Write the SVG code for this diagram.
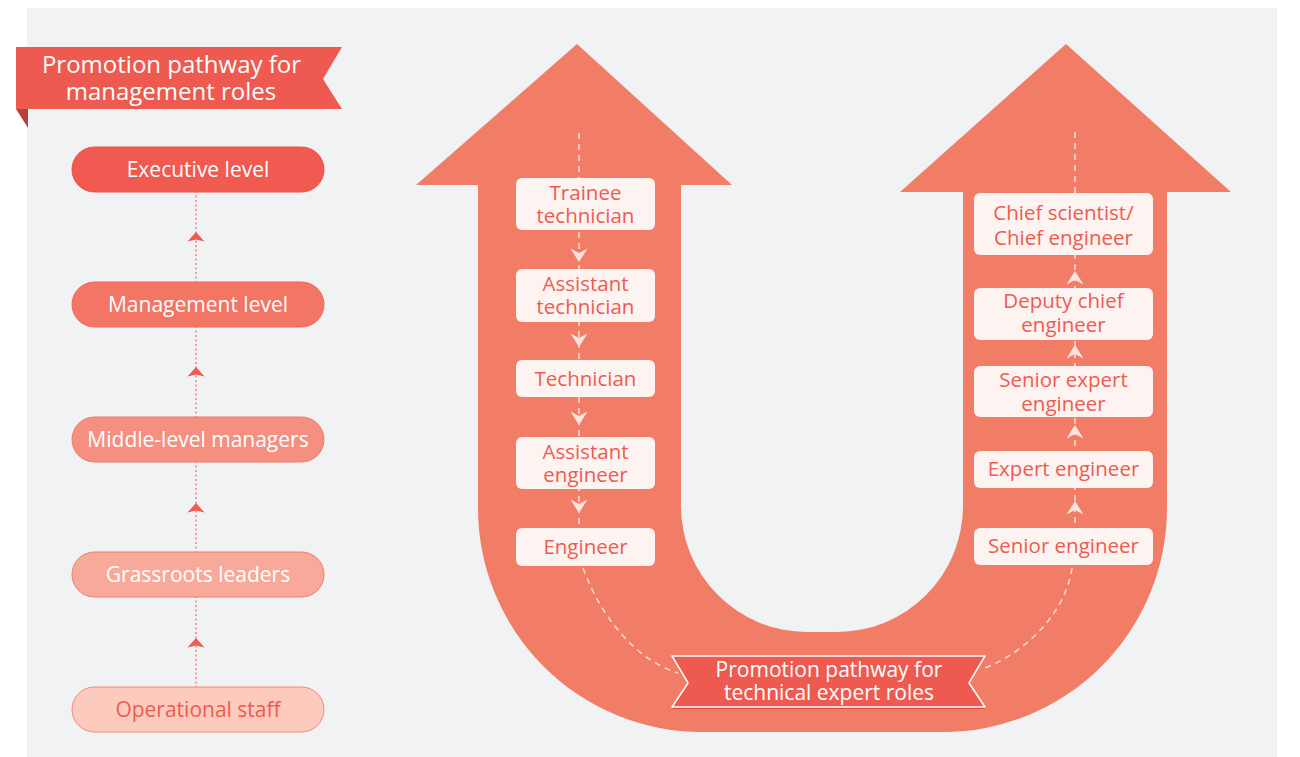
<svg xmlns="http://www.w3.org/2000/svg" width="1300" height="757" viewBox="0 0 1300 757">
<defs>
<style>
.t{font-family:"Open Sans","Noto Sans","DejaVu Sans",sans-serif;text-anchor:middle}
.wt{fill:#ffffff}
.rt{fill:#ef5b50}
.box{fill:#fdf3f1}
.dot{stroke:#f08276;stroke-width:1.5;stroke-dasharray:2 2.5;fill:none}
.dash{stroke:#ffffff;stroke-opacity:0.75;stroke-width:1.5;stroke-dasharray:6 5;fill:none}
</style>
<path id="chev" d="M-8.5,-6.5 L0,-2 L8.5,-6.5 L0,7 Z" fill="#fde3dd"/>
<path id="tri" d="M0,0 L8.5,9.5 L0,7.5 L-8.5,9.5 Z" fill="#f05a50"/>
</defs>
<rect x="0" y="0" width="1300" height="757" fill="#ffffff"/>
<rect x="27" y="8" width="1250" height="749" fill="#f1f2f4"/>

<g id="u-arrow">
<path d="M577,44 L732,185 L681,185 L681,506 A126,126 0 0 0 807,632 L837,632 A126,126 0 0 0 963,506 L963,192 L900,192 L1066,44 L1231,192 L1167,192 L1167,508 A224,224 0 0 1 943,732 L702,732 A224,224 0 0 1 478,508 L478,185 L416,185 Z" fill="#f27d67"/>
</g>

<g id="connectors">
<line class="dot" x1="196" y1="191" x2="196" y2="687"/>
<use href="#tri" x="196" y="232"/>
<use href="#tri" x="196" y="367"/>
<use href="#tri" x="196" y="503"/>
<use href="#tri" x="196" y="638"/>
<line class="dash" x1="579" y1="133" x2="579" y2="528"/>
<path class="dash" d="M583,568 C600,615 635,660 678,673"/>
<line class="dash" x1="1075" y1="132" x2="1075" y2="528"/>
<path class="dash" d="M1072,568 C1066,610 1030,650 985,668"/>
<use href="#chev" x="579" y="255"/>
<use href="#chev" x="579" y="340"/>
<use href="#chev" x="579" y="418"/>
<use href="#chev" x="579" y="506"/>
<use href="#chev" transform="translate(1075,278) rotate(180)"/>
<use href="#chev" transform="translate(1075,352) rotate(180)"/>
<use href="#chev" transform="translate(1075,432) rotate(180)"/>
<use href="#chev" transform="translate(1075,508) rotate(180)"/>
</g>

<g id="title-management">
<path d="M16,109 L28,109 L28,128 Z" fill="#b8423a"/>
<path d="M16,47 L342,47 L323,79 L342,109 L16,109 Z" fill="#ef5a50"/>
<text class="t wt" font-size="24"><tspan x="171.5" y="73">Promotion pathway for</tspan><tspan x="171" y="100">management roles</tspan></text>
</g>

<g id="executive-level">
<rect x="72" y="147" width="252" height="45" rx="22.5" fill="#f05a50" stroke="#ec5248"/>
<text class="t wt" x="198" y="177" font-size="21">Executive level</text>
</g>
<g id="management-level">
<rect x="72" y="282" width="252" height="45" rx="22.5" fill="#f37563" stroke="#ef6a5a"/>
<text class="t wt" x="198" y="312" font-size="21">Management level</text>
</g>
<g id="middle-level-managers">
<rect x="72" y="417" width="252" height="45" rx="22.5" fill="#f58f7f" stroke="#f17a6b"/>
<text class="t wt" x="198" y="447" font-size="21">Middle-level managers</text>
</g>
<g id="grassroots-leaders">
<rect x="72" y="552" width="252" height="45" rx="22.5" fill="#f9a999" stroke="#f27b6c"/>
<text class="t wt" x="198" y="582" font-size="21">Grassroots leaders</text>
</g>
<g id="operational-staff">
<rect x="72" y="687" width="252" height="45" rx="22.5" fill="#fccbbd" stroke="#f28a7a"/>
<text class="t rt" x="198" y="717" font-size="21">Operational staff</text>
</g>

<g id="trainee-technician">
<rect class="box" x="516" y="178" width="139" height="52" rx="6"/>
<text class="t rt" font-size="20.5"><tspan x="585.5" y="200">Trainee</tspan><tspan x="585.5" y="223">technician</tspan></text>
</g>
<g id="assistant-technician">
<rect class="box" x="516" y="269" width="139" height="53" rx="6"/>
<text class="t rt" font-size="20.5"><tspan x="585.5" y="291">Assistant</tspan><tspan x="585.5" y="314">technician</tspan></text>
</g>
<g id="technician">
<rect class="box" x="516" y="360" width="139" height="37" rx="6"/>
<text class="t rt" x="585.5" y="386" font-size="20.5">Technician</text>
</g>
<g id="assistant-engineer">
<rect class="box" x="516" y="437" width="139" height="52" rx="6"/>
<text class="t rt" font-size="20.5"><tspan x="585.5" y="459">Assistant</tspan><tspan x="585.5" y="482">engineer</tspan></text>
</g>
<g id="engineer">
<rect class="box" x="516" y="528" width="139" height="38" rx="6"/>
<text class="t rt" x="585.5" y="554" font-size="20.5">Engineer</text>
</g>

<g id="chief-scientist">
<rect class="box" x="974" y="193" width="179" height="62" rx="6"/>
<text class="t rt" font-size="20.5"><tspan x="1063.5" y="220">Chief scientist/</tspan><tspan x="1063.5" y="245">Chief engineer</tspan></text>
</g>
<g id="deputy-chief-engineer">
<rect class="box" x="974" y="288" width="179" height="52" rx="6"/>
<text class="t rt" font-size="20.5"><tspan x="1063.5" y="308">Deputy chief</tspan><tspan x="1063.5" y="332">engineer</tspan></text>
</g>
<g id="senior-expert-engineer">
<rect class="box" x="974" y="366" width="179" height="51" rx="6"/>
<text class="t rt" font-size="20.5"><tspan x="1063.5" y="387">Senior expert</tspan><tspan x="1063.5" y="411">engineer</tspan></text>
</g>
<g id="expert-engineer">
<rect class="box" x="974" y="451" width="179" height="37" rx="6"/>
<text class="t rt" x="1063.5" y="476" font-size="20.5">Expert engineer</text>
</g>
<g id="senior-engineer">
<rect class="box" x="974" y="528" width="179" height="37" rx="6"/>
<text class="t rt" x="1063.5" y="553" font-size="20.5">Senior engineer</text>
</g>

<g id="title-technical">
<path d="M672,658 L985,658 L969,685 L985,709 L672,709 L688,685 Z" fill="#dc4b42"/>
<path d="M672,656 L985,656 L969,683 L985,707 L672,707 L688,683 Z" fill="#ef5a50" stroke="#ffffff" stroke-width="1.5" stroke-linejoin="round"/>
<text class="t wt" font-size="21"><tspan x="829" y="677">Promotion pathway for</tspan><tspan x="829" y="700">technical expert roles</tspan></text>
</g>
</svg>
